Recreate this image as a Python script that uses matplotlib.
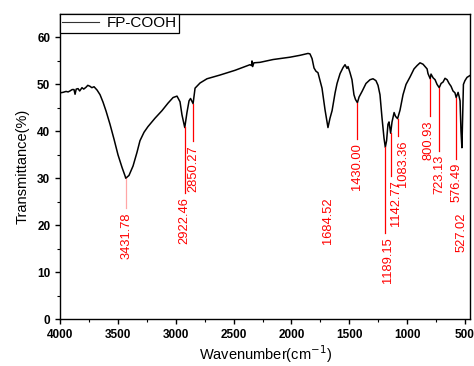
import numpy as np
import matplotlib
matplotlib.use('Agg')
import matplotlib.pyplot as plt

plt.rcParams['font.family'] = ['Liberation Sans', 'DejaVu Sans']

# FT-IR spectrum
wavenumber = [4000, 3975, 3948, 3930, 3914, 3895, 3879, 3870, 3860, 3844, 3830, 3810,
              3795, 3775, 3760, 3741, 3725, 3706, 3680, 3654, 3628, 3602, 3568, 3533,
              3499, 3464, 3438, 3432, 3404, 3369, 3335, 3309, 3274, 3240, 3179, 3119,
              3067, 3023, 2989, 2963, 2946, 2922, 2903, 2885, 2872, 2850, 2833, 2790,
              2730, 2617, 2488, 2401, 2358, 2345, 2341, 2335, 2325, 2272, 2159, 2012,
              1926, 1857, 1840, 1822, 1805, 1788, 1771, 1753, 1736, 1710, 1684.5, 1667,
              1649, 1623, 1606, 1580, 1554, 1537, 1520, 1511, 1494, 1477, 1460, 1447,
              1430, 1416, 1390, 1356, 1321, 1295, 1270, 1252, 1235, 1218, 1200, 1189,
              1178, 1166, 1157, 1143, 1131, 1113, 1101, 1083, 1062, 1036, 1010, 975,
              941, 915, 889, 863, 846, 828, 820, 801, 794, 776, 759, 742, 723, 707,
              690, 673, 655, 638, 621, 604, 587, 576.5, 560, 552, 543, 535, 527, 520,
              514, 501, 483, 457]
transmittance = [48.2, 48.3, 48.5, 48.4, 48.6, 48.9, 48.9, 47.9, 49.0, 49.1, 48.6, 49.3,
                 49.0, 49.4, 49.8, 49.6, 49.3, 49.5, 48.8, 47.8, 46.2, 44.3, 41.5, 38.3,
                 35.0, 32.3, 30.5, 30.0, 30.6, 32.6, 35.5, 38.0, 39.8, 41.0, 42.8, 44.4,
                 46.0, 47.2, 47.5, 46.3, 43.5, 40.8, 44.0, 46.5, 47.0, 45.9, 49.2, 50.3,
                 51.2, 52.0, 53.0, 53.8, 54.2, 54.0, 55.0, 53.8, 54.6, 54.7, 55.3, 55.8,
                 56.2, 56.6, 56.5, 55.5, 53.5, 52.8, 52.5, 50.8, 49.2, 44.6, 40.8, 42.8,
                 44.4, 48.2, 50.2, 52.3, 53.6, 54.2, 53.4, 53.8, 52.5, 51.0, 47.8, 46.8,
                 46.1, 47.3, 48.5, 50.2, 51.0, 51.2, 50.8, 49.8, 47.8, 43.0, 38.5, 36.6,
                 38.0, 41.5, 42.0, 39.6, 42.0, 44.0, 43.2, 42.7, 44.5, 47.8, 50.0, 51.6,
                 53.3, 54.0, 54.6, 54.3, 53.8, 53.3, 52.3, 51.2, 52.2, 51.4, 51.0, 50.0,
                 49.3, 50.2, 50.5, 51.3, 51.0, 50.2, 49.6, 48.6, 48.2, 47.2, 48.3, 47.5,
                 46.5, 40.0, 36.5, 44.0, 50.0, 50.8, 51.5, 51.9]

# peak labels
peaks = [3431.78, 2922.46, 2850.27, 1684.52, 1430.00, 1189.15, 1142.77,
         1083.36, 800.93, 723.13, 576.49, 527.02]
label_y = [23.7, 26.9, 38.0, 26.9, 38.4, 18.4, 30.5, 39.0, 43.3, 35.9, 34.2, 23.7]
label_dx = [-10, 0, 0, 0, 0, -20, -45, -45, 15, 0, 0, 0]
show_line = [True, True, True, False, True, True, True, True, True, True, True, False]

fig = plt.figure(figsize=(4.74, 3.66), dpi=100)
ax = fig.add_axes([0.1266, 0.1284, 0.8650, 0.8333])

ax.plot(wavenumber, transmittance, color='black', lw=1.1, label='FP-COOH')

wn_sorted = np.array(wavenumber[::-1])
tr_sorted = np.array(transmittance[::-1])
for p, ly, dx, sl in zip(peaks, label_y, label_dx, show_line):
    yc = np.interp(p, wn_sorted, tr_sorted)
    if sl:
        a = 0.35 if p > 3000 else 1.0
        ax.plot([p, p], [yc, ly], color='red', lw=0.9, alpha=a)
    ax.text(p + dx, ly - 0.9, f'{p:.2f}', color='red', rotation=90, ha='center',
            va='top', fontsize=9.3)

ax.set_xlim(4000, 457)
ax.set_ylim(0, 65)
ax.set_xticks([4000, 3500, 3000, 2500, 2000, 1500, 1000, 500])
ax.set_xticks(np.arange(750, 4000, 500), minor=True)
ax.set_yticks([0, 10, 20, 30, 40, 50, 60])
ax.set_yticks(np.arange(5, 65, 10), minor=True)
ax.tick_params(which='major', direction='out', length=3.5, width=1, labelsize=8.5,
               top=False, right=False)
ax.tick_params(which='minor', direction='out', length=2, width=0.8, top=False, right=False)
for lab in ax.get_xticklabels() + ax.get_yticklabels():
    lab.set_fontweight('bold')
for s in ax.spines.values():
    s.set_linewidth(1.0)

ax.set_xlabel('Wavenumber(cm$^{-1}$)', fontsize=10.5, labelpad=2)
ax.set_ylabel('Transmittance(%)', fontsize=10.5, labelpad=5)

leg = ax.legend(loc='upper left', borderaxespad=0, fontsize=11, fancybox=False,
                framealpha=1, edgecolor='black', handlelength=2.4, handletextpad=0.5,
                borderpad=0.15)
leg.get_frame().set_linewidth(0.9)
leg.get_lines()[0].set_linewidth(0.8)
leg.get_lines()[0].set_color('#333333')

fig.savefig('out.png', dpi=100)
